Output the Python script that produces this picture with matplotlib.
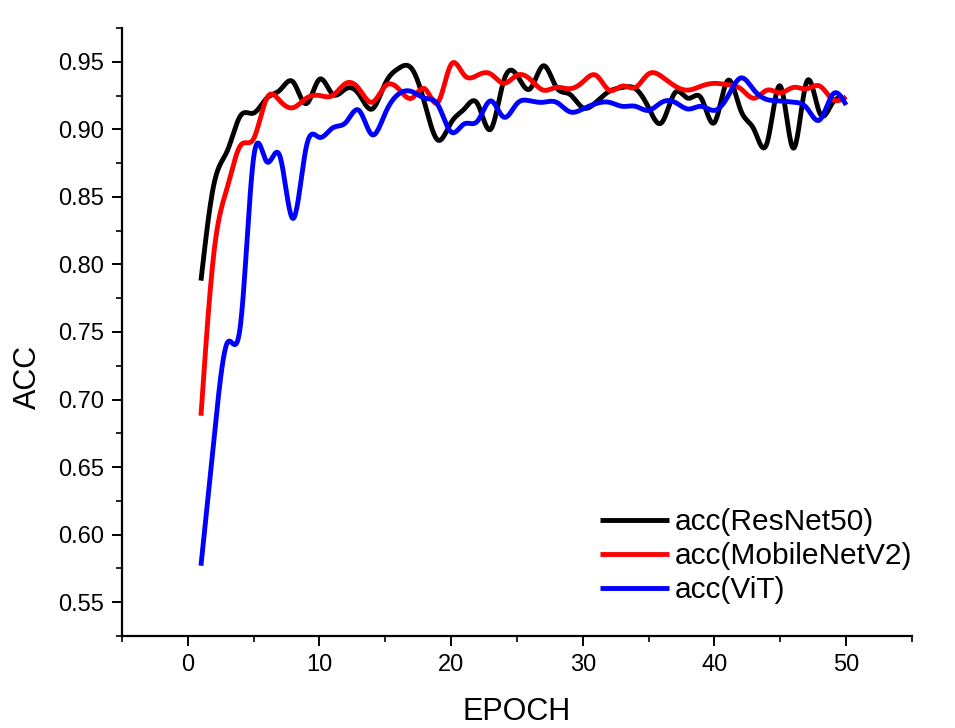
import numpy as np
import matplotlib
matplotlib.use("Agg")
import matplotlib.pyplot as plt
from matplotlib.ticker import MultipleLocator, FormatStrFormatter

plt.rcParams['font.family'] = ['Liberation Sans', 'DejaVu Sans']

epochs = list(range(1, 51))

resnet50 = [0.788, 0.860, 0.884, 0.910, 0.912, 0.923, 0.929, 0.935, 0.919, 0.937,
            0.926, 0.930, 0.926, 0.915, 0.934, 0.945, 0.945, 0.919, 0.892, 0.905,
            0.915, 0.919, 0.900, 0.936, 0.940, 0.930, 0.947, 0.931, 0.926, 0.916,
            0.920, 0.928, 0.931, 0.930, 0.916, 0.905, 0.927, 0.923, 0.923, 0.905,
            0.936, 0.914, 0.900, 0.890, 0.932, 0.886, 0.935, 0.912, 0.920, 0.922]

mobilenetv2 = [0.688, 0.810, 0.857, 0.888, 0.893, 0.923, 0.921, 0.916, 0.923, 0.925,
               0.925, 0.934, 0.930, 0.920, 0.932, 0.930, 0.923, 0.930, 0.920, 0.948,
               0.940, 0.940, 0.941, 0.934, 0.940, 0.937, 0.929, 0.931, 0.930, 0.935,
               0.940, 0.929, 0.932, 0.931, 0.941, 0.939, 0.932, 0.929, 0.932, 0.934,
               0.933, 0.930, 0.923, 0.929, 0.927, 0.931, 0.930, 0.932, 0.922, 0.924]

vit = [0.577, 0.672, 0.742, 0.755, 0.879, 0.876, 0.880, 0.834, 0.887, 0.894,
       0.901, 0.905, 0.914, 0.896, 0.912, 0.926, 0.928, 0.923, 0.918, 0.898,
       0.904, 0.906, 0.921, 0.909, 0.919, 0.921, 0.920, 0.920, 0.913, 0.915,
       0.919, 0.920, 0.917, 0.917, 0.914, 0.920, 0.920, 0.915, 0.917, 0.914,
       0.924, 0.938, 0.929, 0.922, 0.921, 0.920, 0.916, 0.907, 0.926, 0.918]

series_labels = ['acc(ResNet50)', 'acc(MobileNetV2)', 'acc(ViT)']
series_colors = ['#000000', '#ff0000', '#0000ff']


def natural_spline(x, y, per_seg=20):
    """Render helper: natural cubic spline through the data points (Origin-style spline line)."""
    x = np.asarray(x, float)
    y = np.asarray(y, float)
    n = len(x)
    h = np.diff(x)
    A = np.zeros((n, n))
    b = np.zeros(n)
    A[0, 0] = 1
    A[-1, -1] = 1
    for i in range(1, n - 1):
        A[i, i - 1] = h[i - 1]
        A[i, i] = 2 * (h[i - 1] + h[i])
        A[i, i + 1] = h[i]
        b[i] = 3 * ((y[i + 1] - y[i]) / h[i] - (y[i] - y[i - 1]) / h[i - 1])
    c = np.linalg.solve(A, b)
    xs, ys = [], []
    for i in range(n - 1):
        t = np.linspace(0, h[i], per_seg, endpoint=False)
        bi = (y[i + 1] - y[i]) / h[i] - h[i] * (2 * c[i] + c[i + 1]) / 3
        di = (c[i + 1] - c[i]) / (3 * h[i])
        xs.append(x[i] + t)
        ys.append(y[i] + bi * t + c[i] * t ** 2 + di * t ** 3)
    xs.append([x[-1]])
    ys.append([y[-1]])
    return np.concatenate(xs), np.concatenate(ys)


fig = plt.figure(figsize=(9.55, 7.28), dpi=100)
ax = fig.add_axes([0.1277, 0.1264, 0.8272, 0.8352])

for data, lab, col in zip([resnet50, mobilenetv2, vit], series_labels, series_colors):
    sx, sy = natural_spline(epochs, data)
    ax.plot(sx, sy, color=col, lw=3.5, label=lab, solid_capstyle='butt')

ax.set_xlim(-5, 55)
ax.set_ylim(0.525, 0.975)
ax.xaxis.set_major_locator(MultipleLocator(10))
ax.xaxis.set_minor_locator(MultipleLocator(5))
ax.yaxis.set_major_locator(MultipleLocator(0.05))
ax.yaxis.set_minor_locator(MultipleLocator(0.025))
ax.yaxis.set_major_formatter(FormatStrFormatter('%.2f'))

for s in ['top', 'right']:
    ax.spines[s].set_visible(False)
for s in ['left', 'bottom']:
    ax.spines[s].set_linewidth(1.6)

ax.tick_params(which='major', direction='out', length=7, width=1.4, labelsize=17, pad=6)
ax.tick_params(which='minor', direction='out', length=4, width=1.2)

ax.set_xlabel('EPOCH', fontsize=22)
ax.set_ylabel('ACC', fontsize=22)
ax.xaxis.set_label_coords(0.5, -0.1)
ax.yaxis.set_label_coords(-0.1, 0.426)

leg = ax.legend(loc='upper left', bbox_to_anchor=(0.605, 0.21), frameon=False,
                fontsize=21.5, handlelength=2.3, handletextpad=0.22, labelspacing=0.2,
                borderpad=0, borderaxespad=0)

fig.savefig('out.png', dpi=100)
